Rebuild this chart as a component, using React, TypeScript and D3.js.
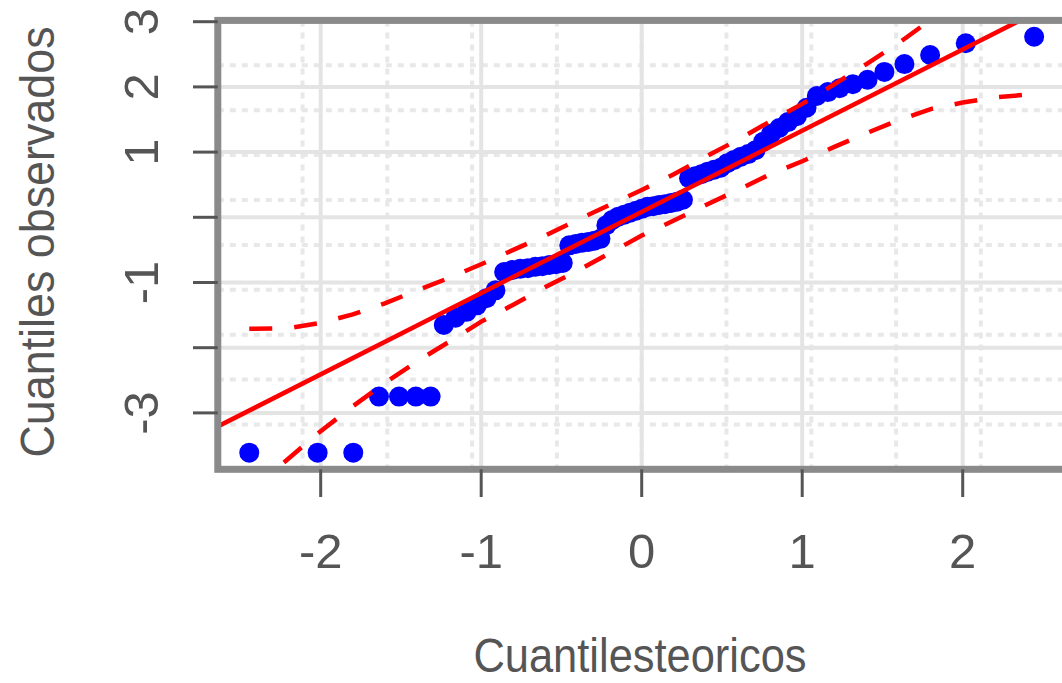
import React from "react";
import * as d3 from "d3";

const theoretical = [
  -2.445, -2.019, -1.797, -1.637, -1.512, -1.407, -1.315, -1.233, -1.16, -1.091,
  -1.027, -0.967, -0.911, -0.857, -0.806, -0.757, -0.709, -0.663, -0.618, -0.575,
  -0.533, -0.492, -0.451, -0.411, -0.372, -0.333, -0.295, -0.257, -0.22, -0.183,
  -0.146, -0.109, -0.073, -0.036, 0, 0.036, 0.073, 0.109, 0.146, 0.183,
  0.22, 0.257, 0.295, 0.333, 0.372, 0.411, 0.451, 0.492, 0.533, 0.575,
  0.618, 0.663, 0.709, 0.757, 0.806, 0.857, 0.911, 0.967, 1.027, 1.091,
  1.16, 1.233, 1.315, 1.407, 1.512, 1.637, 1.797, 2.019, 2.445,
];
const observed = [
  -3.61, -3.61, -3.61, -2.75, -2.75, -2.75, -2.75,
  -1.65, -1.54, -1.45, -1.35, -1.24, -1.12,
  -0.84, -0.81, -0.79, -0.78, -0.76, -0.75, -0.73, -0.72, -0.7,
  -0.43, -0.41, -0.39, -0.38, -0.36, -0.33,
  -0.12, -0.04, 0.01, 0.04, 0.07, 0.1, 0.13, 0.16, 0.17, 0.19, 0.2, 0.22, 0.24, 0.27,
  0.6, 0.63, 0.66, 0.7, 0.73, 0.76, 0.83, 0.88, 0.93, 0.97, 1.03, 1.16, 1.28, 1.37,
  1.46, 1.55, 1.68, 1.86, 1.92, 1.98, 2.04, 2.11, 2.23, 2.35, 2.49, 2.67, 2.77,
];

// reference line
const refIntercept = 0.083;
const refSlope = 1.246;

// confidence envelope (dashed)
const envZ = [
  -2.445, -2.2, -2.0, -1.8, -1.6, -1.4, -1.2, -1.0, -0.8, -0.6, -0.4, -0.2, 0,
  0.2, 0.4, 0.6, 0.8, 1.0, 1.2, 1.4, 1.6, 1.8, 2.0, 2.2, 2.445,
];
const envUpper = [
  -1.71, -1.7, -1.62, -1.49, -1.32, -1.12, -0.93, -0.72, -0.5, -0.28, -0.04, 0.19, 0.42,
  0.66, 0.93, 1.19, 1.47, 1.74, 2.04, 2.35, 2.67, 3.03, 3.42, 3.85, 4.4,
];
const envLower = [
  -4.2, -3.7, -3.28, -2.9, -2.54, -2.21, -1.91, -1.6, -1.34, -1.07, -0.82, -0.55, -0.28,
  -0.05, 0.19, 0.42, 0.66, 0.86, 1.08, 1.29, 1.49, 1.66, 1.76, 1.84, 1.89,
];

// axes
const xTicks = [-2, -1, 0, 1, 2];
const yTicks = [-3, -2, -1, 0, 1, 2, 3];
const yTickLabels = ["-3", "", "-1", "", "1", "2", "3"];
const xDotted = [-2.113, -1.585, -1.057, -0.528, 0, 0.528, 1.057, 1.585, 2.113];
const yDotted = [-3.177, -2.488, -1.8, -1.111, -0.423, 0.266, 0.955, 1.643, 2.332];

const xDomain = [-2.641, 2.641];
const yDomain = [-3.865, 3.02];

const W = 1062;
const H = 683;
const FONT = "'Liberation Sans', Arial, sans-serif";
const TEXT = "#555";

export default function App() {
  const x = d3.scaleLinear().domain(xDomain).range([217.8, 1065.6]);
  const y = d3.scaleLinear().domain(yDomain).range([469.3, 20.4]);
  const [x0, x1] = x.range();
  const [y0, y1] = y.range();

  const points = theoretical.map((t, i) => ({ t, o: observed[i] }));
  const envLine = d3
    .line<number>()
    .x((_, i) => x(envZ[i]))
    .y((d) => y(d));

  return (
    <div style={{ position: "absolute", left: 0, top: 0 }}>
      <svg width={W} height={H} style={{ display: "block", background: "#fff" }}>
        <defs>
          <clipPath id="plotArea">
            <rect x={x0} y={y1} width={x1 - x0} height={y0 - y1} />
          </clipPath>
        </defs>

        {/* dotted grid */}
        <g stroke="#e8e8e8" strokeWidth={4} strokeDasharray="6 6">
          {xDotted.map((d) => (
            <line key={"xd" + d} x1={x(d)} x2={x(d)} y1={y1} y2={y0} />
          ))}
          {yDotted.map((d) => (
            <line key={"yd" + d} x1={x0} x2={x1} y1={y(d)} y2={y(d)} />
          ))}
        </g>
        {/* solid grid */}
        <g stroke="#e4e4e4" strokeWidth={4}>
          {xTicks.map((d) => (
            <line key={"xg" + d} x1={x(d)} x2={x(d)} y1={y1} y2={y0} />
          ))}
          {yTicks.map((d) => (
            <line key={"yg" + d} x1={x0} x2={x1} y1={y(d)} y2={y(d)} />
          ))}
        </g>

        <g clipPath="url(#plotArea)">
          {points.map((p, i) => (
            <circle key={i} cx={x(p.t)} cy={y(p.o)} r={10} fill="#0000ff" />
          ))}
          <line
            x1={x(xDomain[0])}
            y1={y(refIntercept + refSlope * xDomain[0])}
            x2={x(xDomain[1])}
            y2={y(refIntercept + refSlope * xDomain[1])}
            stroke="#ff0000"
            strokeWidth={4.5}
          />
          <path d={envLine(envUpper) || ""} fill="none" stroke="#ff0000" strokeWidth={4.5} strokeDasharray="23 22" />
          <path d={envLine(envLower) || ""} fill="none" stroke="#ff0000" strokeWidth={4.5} strokeDasharray="23 22" />
        </g>

        {/* box */}
        <rect x={x0} y={y1} width={x1 - x0} height={y0 - y1} fill="none" stroke="#8a8a8a" strokeWidth={7} />

        {/* y axis */}
        <g>
          {yTicks.map((d, i) => (
            <g key={"yt" + d}>
              <line x1={193} x2={x0} y1={y(d)} y2={y(d)} stroke="#555" strokeWidth={3} />
              {yTickLabels[i] && (
                <text
                  x={158}
                  y={y(d)}
                  transform={`rotate(-90, 158, ${y(d)})`}
                  textAnchor="middle"
                  fontFamily={FONT}
                  fontSize={49}
                  fill={TEXT}
                >
                  {yTickLabels[i]}
                </text>
              )}
            </g>
          ))}
        </g>

        {/* x axis */}
        <g>
          {xTicks.map((d) => (
            <g key={"xt" + d}>
              <line x1={x(d)} x2={x(d)} y1={y0} y2={497} stroke="#555" strokeWidth={3} />
              <text x={x(d)} y={568} textAnchor="middle" fontFamily={FONT} fontSize={49} fill={TEXT}>
                {d}
              </text>
            </g>
          ))}
        </g>

        {/* titles, slightly condensed like the reference */}
        <g transform="translate(640, 672) scale(0.905, 1)">
          <text x={0} y={0} textAnchor="middle" fontFamily={FONT} fontSize={48} fill={TEXT}>
            Cuantilesteoricos
          </text>
        </g>
        <g transform="translate(54, 242) rotate(-90) scale(0.934, 1)">
          <text x={0} y={0} textAnchor="middle" fontFamily={FONT} fontSize={48} fill={TEXT}>
            Cuantiles observados
          </text>
        </g>
      </svg>
    </div>
  );
}
